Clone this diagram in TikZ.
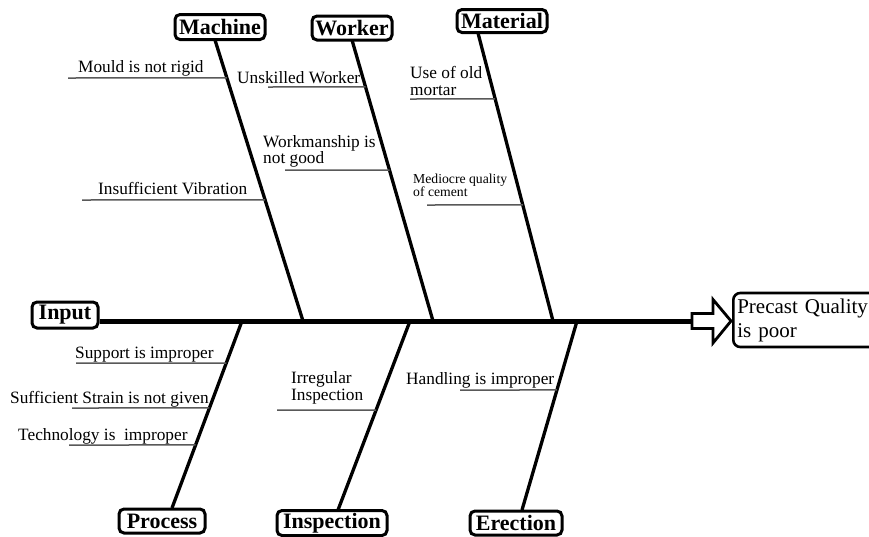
\documentclass[tikz,border=0pt]{standalone}
\usepackage{fontspec}
\setmainfont{Liberation Serif}
\usetikzlibrary{calc}
\begin{document}
\begin{tikzpicture}[x=1pt,y=-1pt,
  lbl/.style={font=\fontsize{22}{22}\selectfont\bfseries, draw, line width=3pt, rounded corners=5pt, inner sep=0pt, fill=white},
  cause/.style={font=\fontsize{17.3}{17.3}\selectfont, inner sep=0pt, anchor=base west},
  smallcause/.style={font=\fontsize{13.7}{13.7}\selectfont, inner sep=0pt, anchor=base west},
  bone/.style={line width=3.3pt},
  twig/.style={line width=1.5pt, draw=black!65},
]
\clip (0,0) rectangle (869,536);
\fill[white] (0,0) rectangle (869,536);

% bone end points
\coordinate (mT) at (215,40);  \coordinate (mB) at (303,321);
\coordinate (wT) at (352,40);  \coordinate (wB) at (433,321);
\coordinate (tT) at (478,33);  \coordinate (tB) at (553,321);
\coordinate (pT) at (242,321); \coordinate (pB) at (172,508);
\coordinate (iT) at (410,321); \coordinate (iB) at (338,510);
\coordinate (eT) at (577,321); \coordinate (eB) at (522,510);
\coordinate (sR) at (692,321);

% spine
\node[lbl, minimum width=66pt, minimum height=26pt] (input) at (65,315) {Input};
\draw[line width=5pt] (input.east |- sR) -- (sR);

% arrow
\draw[line width=2.8pt, fill=white, line join=miter]
  (sR) ++(0,-7.5) -- ++(21,0) -- ++(0,-14) -- (731,321) -- (713,343) -- ++(0,-14.5) -- ++(-21,0) -- cycle;

% head
\node[draw, line width=2.6pt, rounded corners=7pt, fill=white, minimum height=54pt,
      text width=150pt, align=left, inner xsep=4pt, inner ysep=3pt, anchor=west,
      font=\fontsize{21}{24}\selectfont] (head) at (732,320) {Precast Quality\\is poor};

% bones
\draw[bone] (mT) -- (mB);
\draw[bone] (wT) -- (wB);
\draw[bone] (tT) -- (tB);
\draw[bone] (pT) -- (pB);
\draw[bone] (iT) -- (iB);
\draw[bone] (eT) -- (eB);

% category boxes
\node[lbl, minimum width=90pt, minimum height=25pt] (machine) at (220,27) {Machine};
\node[lbl, minimum width=80pt, minimum height=24pt] (worker) at (352,28) {Worker};
\node[lbl, minimum width=90pt, minimum height=23pt] (material) at (502,21) {Material};
\node[lbl, minimum width=86pt, minimum height=24pt] (process) at (162,521) {Process};
\node[lbl, minimum width=110pt, minimum height=25pt] (inspection) at (332,523) {Inspection};
\node[lbl, minimum width=92pt, minimum height=24pt] (erection) at (516,523) {Erection};

% Machine causes
\node[cause] (c1) at (78,72) {Mould is not rigid};
\coordinate (c1s) at (68,78);
\draw[twig] (c1s) -- ($(mT)!0.135!(mB)$);
\node[cause] (c2) at (98,194) {Insufficient Vibration};
\coordinate (c2s) at (82,200);
\draw[twig] (c2s) -- ($(mT)!0.569!(mB)$);

% Worker causes
\node[cause] (c3) at (237,83) {Unskilled Worker};
\coordinate (c3s) at (268,87);
\draw[twig] (c3s) -- ($(wT)!0.167!(wB)$);
\node[cause] (c4a) at (263,147) {Workmanship is};
\node[cause] (c4b) at (263,163) {not good};
\coordinate (c4s) at (285,170);
\draw[twig] (c4s) -- ($(wT)!0.463!(wB)$);

% Material causes
\node[cause] (c5a) at (410,78) {Use of old};
\node[cause] (c5b) at (410,95) {mortar};
\coordinate (c5s) at (410,99);
\draw[twig] (c5s) -- ($(tT)!0.229!(tB)$);
\node[smallcause] (c6a) at (413,183) {Mediocre quality};
\node[smallcause] (c6b) at (413,196) {of cement};
\coordinate (c6s) at (427,205);
\draw[twig] (c6s) -- ($(tT)!0.597!(tB)$);

% Process causes
\node[cause] (c7) at (75,358) {Support is improper};
\coordinate (c7s) at (76,363);
\draw[twig] (c7s) -- ($(pT)!0.225!(pB)$);
\node[cause] (c8) at (10,403) {Sufficient Strain is not given};
\coordinate (c8s) at (72,408);
\draw[twig] (c8s) -- ($(pT)!0.465!(pB)$);
\node[cause] (c9) at (18,440) {Technology is\ \ improper};
\coordinate (c9s) at (69,445);
\draw[twig] (c9s) -- ($(pT)!0.663!(pB)$);

% Inspection cause
\node[cause] (c10a) at (291,383) {Irregular};
\node[cause] (c10b) at (291,400) {Inspection};
\coordinate (c10s) at (277,410);
\draw[twig] (c10s) -- ($(iT)!0.471!(iB)$);

% Erection cause
\node[cause] (c11) at (406,384) {Handling is improper};
\coordinate (c11s) at (460,390);
\draw[twig] (c11s) -- ($(eT)!0.365!(eB)$);
\end{tikzpicture}
\end{document}
